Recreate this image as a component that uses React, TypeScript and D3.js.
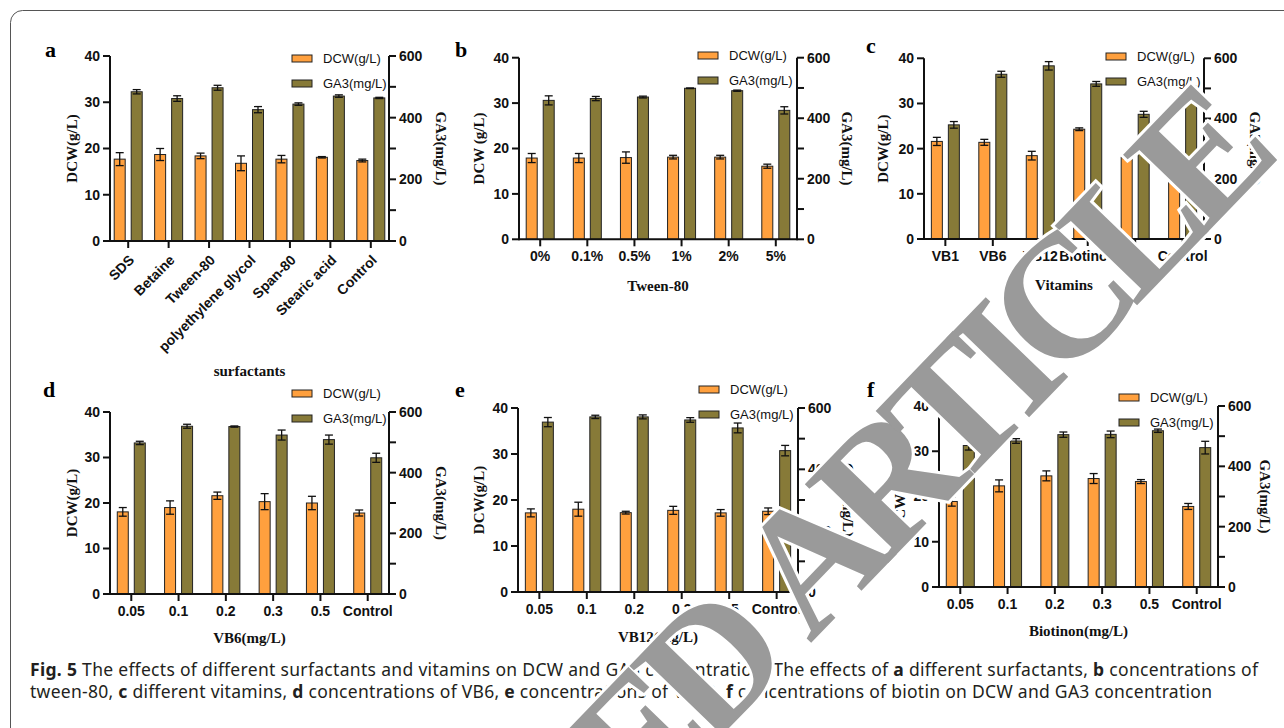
import * as d3 from "d3";
import React from "react";

// panel a - surfactants
const surfactants = ["SDS", "Betaine", "Tween-80", "polyethylene glycol", "Span-80", "Stearic acid", "Control"];
const dcwA = [17.7, 18.7, 18.4, 16.8, 17.7, 18.1, 17.4];
const dcwErrA = [1.4, 1.3, 0.6, 1.6, 0.8, 0.15, 0.3];
const ga3A = [484, 462, 497, 426, 444, 470, 464];
const ga3ErrA = [7, 9, 8, 10, 4, 4, 2];

// panel b - tween-80 concentration
const tween = ["0%", "0.1%", "0.5%", "1%", "2%", "5%"];
const dcwB = [17.9, 17.9, 18.0, 18.1, 18.1, 16.1];
const dcwErrB = [1.0, 1.0, 1.25, 0.4, 0.4, 0.45];
const ga3B = [459, 465, 470, 499, 491, 426];
const ga3ErrB = [15, 7, 3, 1, 2, 12];

// panel c - vitamins
const vitamins = ["VB1", "VB6", "VB12", "Biotinon", "VC", "Control"];
const dcwC = [21.6, 21.4, 18.45, 24.3, 18.1, 17.86];
const dcwErrC = [0.9, 0.66, 0.96, 0.3, 0.3, 0.15];
const ga3C = [379, 547, 575, 515, 414, 466];
const ga3ErrC = [11, 10, 14, 8, 10, 5.5];

// panels d-f share doses
const doses = ["0.05", "0.1", "0.2", "0.3", "0.5", "Control"];
const dcwD = [18.05, 19.0, 21.6, 20.3, 20.0, 17.8];
const dcwErrD = [0.95, 1.47, 0.8, 1.76, 1.47, 0.66];
const ga3D = [498, 553, 552, 524, 509, 449];
const ga3ErrD = [5.5, 6.6, 2, 16.5, 15, 15];

const dcwE = [17.2, 18.0, 17.25, 17.75, 17.2, 17.55];
const dcwErrE = [0.87, 1.52, 0.3, 0.87, 0.72, 0.72];
const ga3E = [554, 571, 571, 561, 535, 461];
const ga3ErrE = [15, 5.4, 6.5, 7.6, 16, 17];

const dcwF = [18.9, 22.35, 24.56, 23.97, 23.3, 17.8];
const dcwErrF = [1.03, 1.32, 1.1, 1.1, 0.44, 0.66];
const ga3F = [469, 484, 505, 506, 518, 462];
const ga3ErrF = [15, 7.7, 8.8, 11, 5.5, 21];

const leftTicks = [0, 10, 20, 30, 40];
const rightTicks = [0, 100, 200, 300, 400, 500, 600];
const legendLabels = ["DCW(g/L)", "GA3(mg/L)"];

const ORANGE = "#FFA03E";
const OLIVE = "#877A38";
const SANS = "'Liberation Sans', Arial, sans-serif";
const SERIF = "'Liberation Serif', 'Times New Roman', serif";

const panels = [
  { letter: "a", cats: surfactants, dcw: dcwA, dcwErr: dcwErrA, ga3: ga3A, ga3Err: ga3ErrA, xTitle: "surfactants", leftTitle: "DCW(g/L)",
    box: [110, 56, 389, 241], rotate: true, letterPos: [45, 57], legend: [292, 55], xTitleY: 376, leftX: 72, rightX: 441 },
  { letter: "b", cats: tween, dcw: dcwB, dcwErr: dcwErrB, ga3: ga3B, ga3Err: ga3ErrB, xTitle: "Tween-80", leftTitle: "DCW (g/L)",
    box: [519, 57.7, 797, 239.3], letterPos: [455, 57], legend: [698, 52], xTitleY: 291, leftX: 479, rightX: 847 },
  { letter: "c", cats: vitamins, dcw: dcwC, dcwErr: dcwErrC, ga3: ga3C, ga3Err: ga3ErrC, xTitle: "Vitamins", leftTitle: "DCW(g/L)",
    box: [924, 58.3, 1204, 239], letterPos: [866, 53], legend: [1106, 53], xTitleY: 290, leftX: 883, rightX: 1255 },
  { letter: "d", cats: doses, dcw: dcwD, dcwErr: dcwErrD, ga3: ga3D, ga3Err: ga3ErrD, xTitle: "VB6(mg/L)", leftTitle: "DCW(g/L)",
    box: [110, 412, 389, 594], letterPos: [43, 397], legend: [292, 390], xTitleY: 643, leftX: 72, rightX: 441 },
  { letter: "e", cats: doses, dcw: dcwE, dcwErr: dcwErrE, ga3: ga3E, ga3Err: ga3ErrE, xTitle: "VB12(mg/L)", leftTitle: "DCW(g/L)",
    box: [518, 408, 798, 592], letterPos: [455, 397], legend: [699, 386], xTitleY: 642, leftX: 479, rightX: 848 },
  { letter: "f", cats: doses, dcw: dcwF, dcwErr: dcwErrF, ga3: ga3F, ga3Err: ga3ErrF, xTitle: "Biotinon(mg/L)", leftTitle: "DCW(g/L)",
    box: [939, 406, 1218, 587], letterPos: [867, 397], legend: [1119, 394], xTitleY: 636, leftX: 900, rightX: 1265 },
];

function ErrBar({ x, y0, y1 }) {
  return (
    <g stroke="#111" strokeWidth={1.3}>
      <line x1={x} x2={x} y1={y0} y2={y1} />
      <line x1={x - 4} x2={x + 4} y1={y0} y2={y0} />
      <line x1={x - 4} x2={x + 4} y1={y1} y2={y1} />
    </g>
  );
}

function Panel({ p }) {
  const [left, top, right, bottom] = p.box;
  const x = d3.scalePoint().domain(p.cats).range([left, right]).padding(0.45);
  const yL = d3.scaleLinear().domain([0, 40]).range([bottom, top]);
  const yR = d3.scaleLinear().domain([0, 600]).range([bottom, top]);
  const bw = 11, gap = 3;
  const midY = (top + bottom) / 2;

  return (
    <g>
      <text x={p.letterPos[0]} y={p.letterPos[1]} fontFamily={SERIF} fontWeight="bold" fontSize={22}>{p.letter}</text>

      {p.cats.map((c, i) => {
        const cx = x(c);
        return (
          <g key={c}>
            <rect x={cx - gap - bw} y={yL(p.dcw[i])} width={bw} height={bottom - yL(p.dcw[i])} fill={ORANGE} stroke="#222" strokeWidth={1} />
            <rect x={cx + gap} y={yR(p.ga3[i])} width={bw} height={bottom - yR(p.ga3[i])} fill={OLIVE} stroke="#222" strokeWidth={1} />
            <ErrBar x={cx - gap - bw / 2} y0={yL(p.dcw[i] - p.dcwErr[i])} y1={yL(p.dcw[i] + p.dcwErr[i])} />
            <ErrBar x={cx + gap + bw / 2} y0={yR(p.ga3[i] - p.ga3Err[i])} y1={yR(p.ga3[i] + p.ga3Err[i])} />
          </g>
        );
      })}

      {/* axes */}
      <g stroke="#111" strokeWidth={2} fill="none">
        <line x1={left} x2={left} y1={top} y2={bottom + 1} />
        <line x1={right} x2={right} y1={top} y2={bottom + 1} />
        <line x1={left} x2={right} y1={bottom} y2={bottom} />
        {leftTicks.map((t) => <line key={"l" + t} x1={left - 7} x2={left} y1={yL(t)} y2={yL(t)} />)}
        {rightTicks.map((t) => <line key={"r" + t} x1={right} x2={right + 7} y1={yR(t)} y2={yR(t)} />)}
        {p.cats.map((c) => <line key={"x" + c} x1={x(c)} x2={x(c)} y1={bottom} y2={bottom + 7} />)}
      </g>

      <g fontFamily={SANS} fontWeight="bold" fontSize={14} fill="#111">
        {leftTicks.map((t) => (
          <text key={"lt" + t} x={left - 10} y={yL(t)} dy="0.35em" textAnchor="end">{t}</text>
        ))}
        {rightTicks.filter((t) => t % 200 === 0).map((t) => (
          <text key={"rt" + t} x={right + 10} y={yR(t)} dy="0.35em">{t}</text>
        ))}
        {p.cats.map((c) =>
          p.rotate ? (
            <text key={"xt" + c} transform={`translate(${x(c)},${bottom + 13}) rotate(-45)`} textAnchor="end" dy="0.7em">{c}</text>
          ) : (
            <text key={"xt" + c} x={x(c)} y={bottom + 22} textAnchor="middle">{c}</text>
          )
        )}
      </g>

      <g fontFamily={SERIF} fontWeight="bold" fontSize={15} fill="#111">
        <text transform={`translate(${p.leftX},${midY}) rotate(-90)`} textAnchor="middle" dy="0.35em">{p.leftTitle}</text>
        <text transform={`translate(${p.rightX},${midY}) rotate(90)`} textAnchor="middle" dy="0.35em">GA3(mg/L)</text>
        <text x={(left + right) / 2} y={p.xTitleY} textAnchor="middle">{p.xTitle}</text>
      </g>

      <g fontFamily={SANS} fontSize={13} fill="#111">
        {legendLabels.map((l, i) => (
          <g key={l}>
            <rect x={p.legend[0]} y={p.legend[1] + i * 25} width={20} height={7} fill={i === 0 ? ORANGE : OLIVE} stroke="#222" strokeWidth={1} />
            <text x={p.legend[0] + 31} y={p.legend[1] + i * 25 + 3.5} dy="0.35em">{l}</text>
          </g>
        ))}
      </g>
    </g>
  );
}

export default function App() {
  return (
    <svg width={1284} height={728} style={{ position: "absolute", left: 0, top: 0, background: "#fff" }}>
      <rect x={10.5} y={10.5} width={1300} height={740} rx={12} fill="#fff" stroke="#555" strokeWidth={1} />
      {panels.map((p) => <Panel key={p.letter} p={p} />)}

      <g fontFamily="'Noto Sans', 'Open Sans', sans-serif" fontSize={17.5} fill="#231f20">
        <text x={30} y={676} textLength={1228} lengthAdjust="spacing">
          <tspan fontWeight="bold">Fig. 5</tspan>
          <tspan>{"  The effects of different surfactants and vitamins on DCW and GA3 concentration. The effects of "}</tspan>
          <tspan fontWeight="bold">a</tspan>
          <tspan>{" different surfactants, "}</tspan>
          <tspan fontWeight="bold">b</tspan>
          <tspan>{" concentrations of"}</tspan>
        </text>
        <text x={30} y={698} textLength={1182} lengthAdjust="spacing">
          <tspan>{"tween-80, "}</tspan>
          <tspan fontWeight="bold">c</tspan>
          <tspan>{" different vitamins, "}</tspan>
          <tspan fontWeight="bold">d</tspan>
          <tspan>{" concentrations of VB6, "}</tspan>
          <tspan fontWeight="bold">e</tspan>
          <tspan>{" concentrations of VB12, "}</tspan>
          <tspan fontWeight="bold">f</tspan>
          <tspan>{" concentrations of biotin on DCW and GA3 concentration"}</tspan>
        </text>
      </g>

      {/* retraction watermark */}
      <g transform="translate(810,644) rotate(-46)" fontFamily={SERIF} fontWeight="bold" fontSize={175} letterSpacing={-18}
         fill="#9a9a9a" stroke="#fff" strokeWidth={6} style={{ paintOrder: "stroke" }}>
        <text x={-36} textAnchor="end">RETRACTED</text>
        <text x={0}>ARTICLE</text>
      </g>
    </svg>
  );
}
